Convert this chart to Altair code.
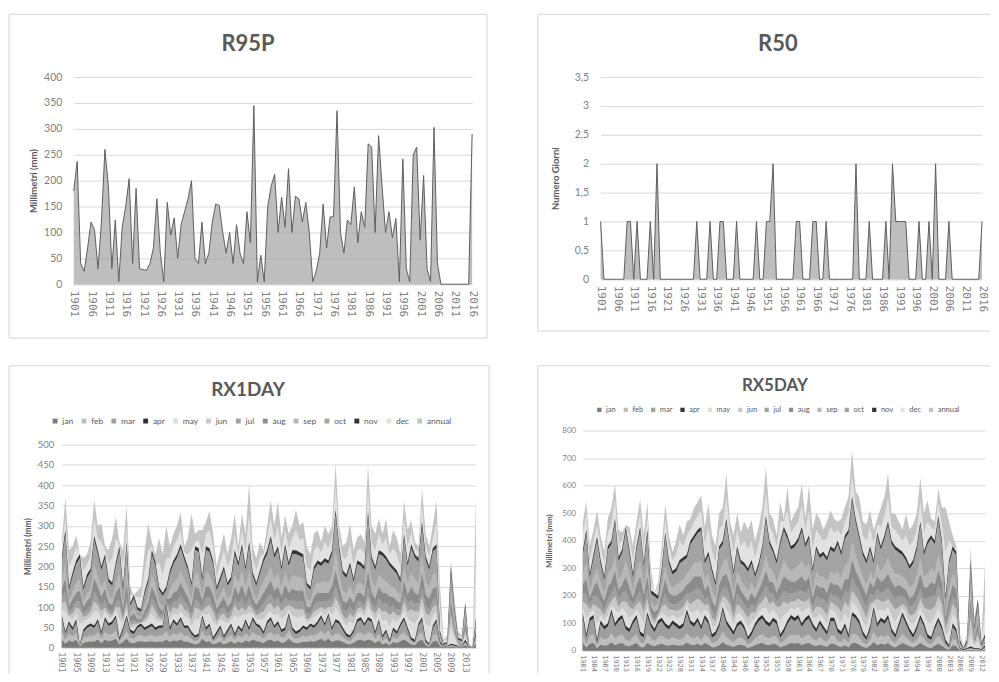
import altair as alt
import pandas as pd

FONT = "Lato"
MONO = "DejaVu Sans Mono"
TXT = "#595959"
LBL = "#7f7f7f"
GRID = "#d9d9d9"
FRAME = "#d4d4d4"

YEARS = list(range(1901, 2017))

# ---------------- R95P (mm) ----------------
R95P = [
    180, 237, 40, 25, 70, 120, 105, 30, 120, 260,
    190, 30, 124, 5, 110, 150, 204, 40, 185, 30,
    28, 27, 40, 70, 165, 60, 5, 158, 95, 128,
    50, 115, 140, 165, 200, 50, 40, 120, 40, 60,
    120, 155, 152, 100, 60, 100, 40, 115, 60, 40,
    140, 80, 345, 5, 56, 5, 150, 190, 212, 100,
    168, 110, 223, 100, 170, 165, 120, 158, 100, 5,
    25, 60, 155, 70, 130, 130, 335, 100, 60, 124,
    115, 188, 80, 140, 110, 271, 265, 100, 287, 190,
    100, 140, 90, 127, 5, 242, 30, 5, 250, 265,
    85, 210, 30, 5, 303, 40, 0, 0, 0, 0,
    0, 0, 0, 0, 0, 290,
]

# ---------------- R50 (giorni) ----------------
R50 = [
    1, 0, 0, 0, 0, 0, 0, 0, 1, 1,
    0, 1, 0, 0, 0, 1, 0, 2, 0, 0,
    0, 0, 0, 0, 0, 0, 0, 0, 0, 1,
    0, 0, 0, 1, 0, 0, 1, 1, 0, 0,
    0, 1, 0, 0, 0, 0, 0, 1, 0, 0,
    1, 1, 2, 0, 0, 0, 0, 0, 0, 1,
    1, 0, 0, 0, 1, 1, 0, 0, 1, 0,
    0, 0, 0, 0, 0, 0, 0, 2, 0, 0,
    0, 1, 0, 0, 0, 0, 1, 0, 2, 1,
    1, 1, 1, 0, 0, 0, 1, 0, 0, 1,
    0, 2, 0, 0, 0, 1, 0, 0, 0, 0,
    0, 0, 0, 0, 0, 1,
]

SERIES = ["jan", "feb", "mar", "apr", "may", "jun", "jul", "aug", "sep", "oct", "nov", "dec", "annual"]
SERIES_COLORS = ["#7a7a7a", "#bdbdbd", "#9e9e9e", "#303030", "#dedede", "#c8c8c8", "#a0a0a0",
                 "#8c8c8c", "#b8b8b8", "#a3a3a3", "#333333", "#e2e2e2", "#c4c4c4"]
DRAW_ORDER = ["annual", "dec", "nov", "oct", "sep", "aug", "jul", "jun", "may", "apr", "mar", "feb", "jan"]

# ---------------- RX1DAY (mm) ----------------
rx1_jan = [
    20, 10, 18, 14, 20, 3, 12, 14, 15, 15,
    20, 11, 20, 16, 18, 22, 8, 14, 22, 12,
    11, 15, 16, 14, 15, 16, 14, 15, 15, 20,
    14, 18, 16, 20, 15, 15, 11, 8, 10, 22,
    14, 16, 8, 11, 15, 8, 12, 16, 10, 15,
    12, 18, 14, 20, 16, 15, 11, 18, 20, 15,
    18, 12, 14, 22, 14, 11, 12, 15, 14, 16,
    15, 18, 22, 16, 22, 14, 18, 18, 14, 10,
    8, 12, 18, 20, 16, 20, 18, 11, 18, 8,
    12, 6, 14, 11, 16, 20, 14, 8, 6, 16,
    20, 6, 3, 15, 18, 4, 2, 2, 3, 3,
    2, 2, 6, 2, 0, 10,
]
rx1_feb = [
    40, 20, 35, 28, 38, 5, 25, 28, 30, 30,
    38, 22, 40, 32, 35, 42, 15, 27, 42, 25,
    22, 30, 32, 28, 30, 32, 27, 30, 30, 40,
    27, 36, 32, 38, 30, 30, 22, 16, 20, 42,
    27, 32, 15, 22, 30, 16, 25, 32, 20, 30,
    25, 36, 27, 38, 32, 30, 22, 35, 38, 30,
    35, 25, 27, 44, 27, 22, 25, 30, 27, 32,
    30, 35, 42, 32, 44, 27, 36, 35, 27, 20,
    16, 25, 36, 38, 32, 38, 36, 22, 36, 16,
    25, 11, 27, 22, 32, 38, 27, 15, 11, 32,
    38, 11, 6, 30, 36, 7, 3, 3, 6, 5,
    3, 3, 11, 3, 0, 20,
]
rx1_mar = [
    74, 35, 59, 44, 64, 5, 39, 49, 54, 49,
    64, 34, 69, 54, 59, 74, 20, 44, 74, 39,
    34, 49, 54, 44, 49, 54, 44, 49, 49, 103,
    44, 64, 54, 69, 49, 49, 34, 25, 29, 74,
    44, 54, 20, 34, 49, 25, 39, 54, 29, 49,
    39, 64, 44, 69, 54, 49, 34, 59, 69, 49,
    59, 39, 44, 79, 44, 34, 39, 49, 44, 54,
    49, 59, 74, 54, 79, 44, 64, 59, 44, 29,
    25, 39, 64, 69, 54, 69, 64, 34, 64, 25,
    39, 15, 44, 34, 54, 69, 44, 20, 15, 54,
    69, 15, 7, 49, 64, 11, 3, 3, 7, 5,
    3, 3, 15, 3, 0, 34,
]
rx1_apr = [
    80, 40, 65, 50, 70, 8, 45, 55, 60, 55,
    70, 40, 75, 60, 65, 80, 25, 50, 80, 45,
    40, 55, 60, 50, 55, 60, 50, 55, 55, 110,
    50, 70, 60, 75, 55, 55, 40, 30, 35, 80,
    50, 60, 25, 40, 55, 30, 45, 60, 35, 55,
    45, 70, 50, 75, 60, 55, 40, 65, 75, 55,
    65, 45, 50, 85, 50, 40, 45, 55, 50, 60,
    55, 65, 80, 60, 85, 50, 70, 65, 50, 35,
    30, 45, 70, 75, 60, 75, 70, 40, 70, 30,
    45, 20, 50, 40, 60, 75, 50, 25, 20, 60,
    75, 20, 10, 55, 70, 15, 5, 5, 10, 8,
    5, 5, 20, 5, 0, 40,
]
rx1_may = [
    95, 90, 75, 70, 85, 60, 65, 70, 75, 90,
    90, 70, 90, 75, 75, 95, 70, 62, 95, 50,
    50, 58, 62, 62, 70, 85, 70, 65, 65, 111,
    70, 85, 80, 90, 78, 75, 55, 70, 70, 85,
    80, 85, 65, 55, 70, 65, 60, 70, 80, 75,
    80, 82, 85, 85, 70, 70, 70, 85, 90, 80,
    85, 70, 80, 95, 80, 75, 75, 80, 62, 68,
    75, 82, 90, 80, 92, 80, 100, 85, 68, 55,
    65, 60, 85, 88, 78, 100, 85, 65, 88, 65,
    70, 55, 72, 62, 72, 95, 72, 65, 60, 75,
    100, 60, 50, 80, 88, 15, 5, 5, 50, 25,
    6, 6, 30, 3, 0, 40,
]
rx1_jun = [
    110, 115, 80, 85, 100, 95, 75, 80, 90, 115,
    105, 90, 100, 85, 80, 100, 100, 70, 110, 55,
    60, 60, 60, 70, 80, 105, 90, 75, 70, 112,
    85, 100, 95, 110, 95, 90, 70, 100, 95, 90,
    100, 105, 90, 65, 80, 85, 70, 80, 105, 90,
    100, 90, 105, 95, 80, 85, 90, 105, 110, 95,
    105, 90, 100, 105, 100, 95, 95, 95, 70, 75,
    90, 95, 100, 95, 100, 100, 125, 105, 80, 70,
    85, 75, 95, 100, 90, 125, 95, 85, 100, 90,
    90, 80, 90, 80, 80, 115, 90, 95, 90, 90,
    125, 85, 80, 100, 105, 16, 5, 6, 80, 35,
    8, 7, 40, 2, 0, 40,
]
rx1_jul = [
    125, 140, 90, 100, 115, 115, 85, 95, 105, 140,
    125, 105, 120, 95, 90, 115, 120, 80, 130, 65,
    70, 65, 65, 80, 95, 125, 110, 85, 80, 115,
    100, 115, 115, 130, 115, 105, 85, 120, 115, 100,
    125, 125, 105, 80, 95, 100, 85, 95, 125, 110,
    125, 105, 125, 105, 90, 100, 110, 125, 135, 115,
    125, 105, 125, 115, 120, 115, 115, 115, 85, 85,
    105, 115, 115, 115, 115, 125, 155, 125, 95, 90,
    105, 90, 115, 115, 105, 155, 110, 100, 125, 110,
    110, 100, 105, 95, 95, 135, 110, 120, 110, 110,
    150, 105, 95, 120, 125, 18, 5, 6, 95, 45,
    10, 8, 50, 2, 0, 40,
]
rx1_aug = [
    145, 170, 100, 120, 135, 140, 100, 115, 125, 170,
    150, 125, 145, 110, 105, 135, 150, 95, 160, 75,
    85, 70, 70, 90, 110, 150, 130, 100, 90, 120,
    120, 135, 140, 160, 140, 125, 100, 150, 145, 115,
    150, 150, 130, 95, 110, 125, 100, 110, 150, 130,
    155, 125, 155, 120, 105, 120, 135, 150, 165, 140,
    150, 125, 155, 135, 145, 140, 140, 140, 100, 100,
    125, 135, 135, 135, 135, 150, 190, 150, 115, 110,
    125, 110, 135, 135, 125, 190, 135, 120, 150, 135,
    135, 125, 125, 115, 110, 165, 130, 150, 135, 130,
    185, 130, 120, 145, 150, 20, 5, 8, 115, 55,
    12, 10, 65, 3, 0, 45,
]
rx1_sep = [
    170, 210, 115, 140, 160, 170, 115, 135, 145, 205,
    180, 150, 170, 130, 120, 160, 185, 110, 195, 85,
    100, 80, 75, 105, 130, 180, 155, 115, 100, 115,
    145, 160, 170, 190, 170, 150, 120, 185, 180, 130,
    185, 180, 160, 115, 130, 150, 120, 130, 180, 160,
    190, 150, 190, 140, 120, 145, 165, 180, 200, 170,
    185, 150, 190, 160, 180, 175, 175, 170, 120, 115,
    150, 160, 160, 165, 160, 180, 240, 185, 140, 135,
    155, 130, 160, 160, 150, 240, 165, 150, 180, 170,
    165, 155, 150, 140, 130, 200, 160, 185, 170, 160,
    230, 165, 150, 180, 185, 25, 6, 10, 140, 70,
    15, 12, 80, 3, 0, 50,
]
rx1_oct = [
    217, 281, 143, 177, 207, 221, 143, 172, 187, 266,
    232, 192, 222, 162, 153, 202, 241, 143, 251, 104,
    123, 94, 89, 133, 162, 231, 202, 143, 128, 143,
    182, 207, 222, 246, 217, 192, 153, 241, 236, 167,
    241, 236, 207, 143, 167, 192, 153, 167, 231, 202,
    246, 192, 251, 177, 153, 182, 212, 231, 266, 222,
    241, 192, 246, 202, 231, 231, 227, 222, 153, 143,
    192, 207, 202, 212, 207, 231, 330, 241, 182, 172,
    202, 162, 207, 202, 192, 325, 217, 192, 231, 227,
    217, 202, 192, 182, 162, 271, 202, 246, 222, 212,
    300, 217, 192, 237, 246, 35, 7, 11, 192, 94,
    21, 16, 104, 3, 0, 68,
]
rx1_nov = [
    225, 290, 150, 185, 215, 230, 150, 180, 195, 275,
    240, 200, 230, 170, 160, 210, 250, 150, 260, 110,
    130, 100, 95, 140, 170, 240, 210, 150, 135, 150,
    190, 215, 230, 255, 225, 200, 160, 250, 245, 175,
    250, 245, 215, 150, 175, 200, 160, 175, 240, 210,
    255, 200, 260, 185, 160, 190, 220, 240, 275, 230,
    250, 200, 255, 210, 240, 240, 235, 230, 160, 150,
    200, 215, 210, 220, 215, 240, 340, 250, 190, 180,
    210, 170, 215, 210, 200, 335, 225, 200, 240, 235,
    225, 210, 200, 190, 170, 280, 210, 255, 230, 220,
    310, 225, 200, 245, 255, 40, 10, 15, 200, 100,
    25, 20, 110, 5, 0, 75,
]
rx1_dec = [
    245, 320, 200, 220, 250, 230, 190, 205, 225, 320,
    270, 260, 240, 210, 220, 270, 255, 200, 300, 130,
    130, 125, 125, 190, 240, 250, 205, 210, 180, 220,
    220, 250, 265, 290, 235, 230, 240, 260, 265, 230,
    280, 290, 250, 175, 210, 240, 200, 220, 280, 230,
    290, 240, 330, 220, 190, 225, 230, 270, 320, 265,
    300, 235, 290, 245, 270, 290, 265, 270, 200, 190,
    240, 250, 235, 260, 245, 270, 400, 275, 220, 220,
    255, 205, 240, 245, 230, 390, 260, 240, 280, 255,
    270, 230, 245, 230, 200, 320, 250, 285, 245, 235,
    350, 250, 225, 270, 310, 100, 15, 20, 210, 110,
    30, 25, 112, 8, 3, 220,
]
rx1_annual = [
    260, 370, 240, 250, 277, 230, 220, 230, 260, 365,
    300, 305, 250, 240, 270, 323, 260, 240, 350, 150,
    130, 140, 150, 240, 305, 260, 230, 270, 230, 300,
    250, 280, 300, 335, 250, 270, 330, 280, 290, 290,
    310, 337, 280, 200, 240, 283, 230, 270, 330, 250,
    330, 280, 404, 250, 220, 260, 240, 300, 363, 300,
    360, 270, 326, 280, 300, 340, 300, 310, 250, 230,
    280, 290, 260, 300, 280, 300, 453, 300, 250, 260,
    305, 240, 270, 280, 260, 450, 300, 280, 318, 280,
    318, 250, 290, 270, 230, 363, 290, 314, 260, 250,
    392, 280, 250, 300, 363, 150, 20, 30, 215, 120,
    40, 30, 113, 10, 5, 380,
]

# ---------------- RX5DAY (mm) ----------------
rx5_jan = [
    30, 12, 25, 28, 8, 22, 18, 20, 30, 20,
    25, 28, 18, 16, 22, 28, 14, 12, 28, 20,
    16, 22, 25, 20, 18, 22, 20, 18, 20, 30,
    22, 20, 25, 18, 28, 22, 12, 14, 20, 32,
    22, 18, 14, 20, 22, 18, 10, 14, 20, 25,
    28, 22, 20, 25, 22, 12, 16, 22, 28, 25,
    28, 20, 25, 28, 20, 16, 22, 18, 14, 25,
    25, 16, 14, 20, 12, 28, 28, 22, 14, 10,
    18, 32, 20, 25, 22, 28, 16, 12, 20, 28,
    22, 16, 12, 18, 28, 20, 12, 10, 18, 25,
    18, 8, 4, 20, 16, 2, 1, 2, 3, 2,
    2, 1, 4, 1, 1, 8,
]
rx5_feb = [
    65, 25, 55, 60, 18, 50, 40, 45, 65, 45,
    55, 60, 40, 35, 50, 60, 32, 28, 62, 45,
    35, 50, 55, 45, 40, 50, 45, 40, 45, 65,
    50, 45, 55, 40, 60, 50, 28, 32, 45, 70,
    50, 40, 32, 45, 50, 40, 22, 32, 45, 55,
    60, 50, 45, 55, 50, 28, 36, 50, 60, 55,
    60, 45, 55, 60, 45, 36, 50, 40, 32, 55,
    55, 36, 32, 45, 28, 62, 60, 50, 32, 22,
    40, 70, 45, 55, 50, 60, 36, 28, 45, 62,
    50, 36, 28, 40, 60, 45, 28, 22, 40, 55,
    40, 18, 9, 45, 36, 5, 2, 5, 7, 5,
    5, 2, 9, 2, 1, 18,
]
rx5_mar = [
    128, 48, 108, 118, 30, 98, 78, 88, 138, 88,
    108, 118, 78, 68, 98, 118, 58, 48, 128, 88,
    68, 98, 108, 88, 78, 98, 88, 78, 88, 138,
    98, 88, 108, 78, 118, 98, 48, 58, 88, 148,
    98, 78, 58, 88, 98, 78, 40, 58, 88, 108,
    118, 98, 88, 108, 98, 48, 68, 98, 118, 108,
    118, 88, 108, 118, 88, 68, 98, 78, 58, 108,
    108, 68, 58, 88, 48, 128, 118, 98, 58, 40,
    78, 148, 88, 108, 98, 118, 68, 48, 88, 128,
    98, 68, 48, 78, 118, 88, 48, 40, 78, 108,
    78, 30, 14, 88, 68, 7, 3, 7, 10, 7,
    7, 3, 14, 3, 2, 30,
]
rx5_apr = [
    140, 60, 120, 130, 40, 110, 90, 100, 150, 100,
    120, 130, 90, 80, 110, 130, 70, 60, 140, 100,
    80, 110, 120, 100, 90, 110, 100, 90, 100, 150,
    110, 100, 120, 90, 130, 110, 60, 70, 100, 160,
    110, 90, 70, 100, 110, 90, 50, 70, 100, 120,
    130, 110, 100, 120, 110, 60, 80, 110, 130, 120,
    130, 100, 120, 130, 100, 80, 110, 90, 70, 120,
    120, 80, 70, 100, 60, 140, 130, 110, 70, 50,
    90, 160, 100, 120, 110, 130, 80, 60, 100, 140,
    110, 80, 60, 90, 130, 100, 60, 50, 90, 120,
    90, 40, 20, 100, 80, 10, 5, 10, 15, 10,
    10, 5, 20, 5, 3, 40,
]
rx5_may = [
    160, 120, 135, 150, 100, 130, 110, 130, 165, 150,
    140, 155, 140, 120, 130, 150, 130, 100, 160, 112,
    92, 120, 140, 130, 120, 130, 120, 120, 130, 168,
    140, 140, 150, 135, 150, 140, 90, 90, 130, 180,
    150, 130, 95, 135, 135, 115, 85, 105, 120, 140,
    155, 155, 135, 150, 135, 110, 130, 140, 155, 150,
    160, 140, 150, 160, 120, 120, 135, 120, 100, 150,
    145, 120, 105, 140, 110, 180, 165, 145, 110, 85,
    130, 170, 145, 150, 145, 160, 125, 105, 130, 155,
    135, 105, 95, 120, 160, 130, 105, 100, 125, 160,
    130, 60, 70, 135, 115, 12, 5, 12, 60, 20,
    35, 6, 22, 6, 3, 80,
]
rx5_jun = [
    180, 170, 150, 170, 160, 150, 130, 160, 180, 200,
    160, 180, 180, 160, 150, 170, 180, 140, 190, 125,
    105, 130, 160, 170, 150, 150, 145, 150, 160, 185,
    170, 180, 190, 180, 165, 170, 120, 110, 165, 200,
    190, 170, 120, 170, 160, 140, 120, 140, 140, 165,
    180, 200, 170, 180, 160, 160, 180, 170, 180, 180,
    190, 180, 180, 190, 140, 160, 160, 150, 130, 180,
    170, 160, 140, 180, 160, 220, 200, 180, 150, 120,
    170, 180, 190, 180, 180, 190, 170, 150, 160, 170,
    160, 130, 130, 150, 190, 160, 150, 150, 160, 200,
    170, 80, 120, 170, 150, 15, 5, 15, 120, 28,
    60, 8, 25, 6, 3, 120,
]
rx5_jul = [
    210, 210, 170, 200, 200, 180, 150, 190, 210, 240,
    190, 210, 220, 190, 170, 200, 220, 170, 230, 140,
    120, 140, 180, 210, 180, 170, 170, 180, 190, 210,
    210, 220, 230, 220, 190, 200, 150, 130, 200, 230,
    230, 200, 150, 210, 190, 170, 150, 170, 160, 190,
    210, 240, 210, 210, 180, 200, 220, 210, 210, 210,
    220, 220, 210, 230, 160, 200, 190, 190, 170, 210,
    200, 200, 180, 220, 210, 270, 240, 220, 190, 160,
    210, 200, 230, 210, 220, 230, 210, 190, 200, 200,
    190, 160, 170, 190, 230, 190, 190, 200, 200, 240,
    210, 100, 160, 200, 180, 18, 5, 18, 160, 35,
    80, 10, 30, 7, 3, 150,
]
rx5_aug = [
    240, 260, 190, 230, 250, 210, 180, 230, 250, 290,
    220, 240, 270, 230, 190, 240, 270, 200, 270, 160,
    140, 150, 210, 260, 210, 200, 200, 210, 220, 240,
    250, 270, 270, 270, 220, 240, 180, 160, 240, 270,
    280, 240, 180, 250, 220, 200, 180, 210, 190, 220,
    250, 290, 250, 250, 210, 240, 270, 260, 250, 250,
    260, 270, 250, 270, 190, 240, 230, 230, 210, 250,
    240, 240, 220, 260, 260, 330, 290, 260, 230, 200,
    250, 230, 270, 250, 260, 280, 250, 230, 240, 230,
    220, 190, 200, 230, 280, 230, 230, 250, 240, 290,
    250, 120, 190, 240, 220, 20, 5, 20, 190, 45,
    100, 12, 35, 8, 3, 180,
]
rx5_sep = [
    280, 320, 220, 270, 300, 250, 210, 280, 300, 350,
    260, 280, 330, 280, 220, 290, 330, 240, 320, 180,
    160, 170, 240, 310, 250, 230, 240, 250, 260, 280,
    300, 320, 320, 330, 260, 280, 220, 190, 280, 320,
    340, 290, 210, 290, 260, 240, 220, 250, 220, 260,
    290, 350, 300, 290, 250, 290, 330, 310, 290, 300,
    310, 330, 300, 320, 220, 290, 270, 270, 250, 290,
    280, 290, 270, 310, 320, 400, 350, 310, 270, 240,
    290, 260, 320, 290, 310, 340, 300, 280, 280, 270,
    260, 230, 240, 280, 340, 270, 280, 300, 290, 350,
    300, 140, 230, 280, 260, 25, 6, 25, 230, 55,
    120, 15, 40, 10, 3, 210,
]
rx5_oct = [
    348, 428, 268, 338, 402, 318, 258, 368, 388, 468,
    328, 358, 438, 358, 268, 368, 438, 308, 428, 208,
    198, 188, 288, 418, 318, 278, 288, 318, 328, 338,
    388, 408, 428, 438, 318, 348, 288, 238, 368, 388,
    468, 368, 278, 368, 318, 308, 288, 318, 268, 308,
    368, 478, 388, 358, 318, 388, 438, 408, 368, 378,
    398, 438, 378, 408, 288, 368, 338, 348, 328, 368,
    358, 388, 348, 408, 428, 548, 468, 408, 348, 318,
    368, 318, 418, 368, 408, 458, 388, 368, 358, 348,
    328, 298, 318, 368, 458, 348, 388, 408, 388, 478,
    388, 188, 318, 368, 348, 32, 6, 32, 318, 80,
    173, 20, 50, 10, 3, 288,
]
rx5_nov = [
    360, 440, 280, 350, 414, 330, 270, 380, 400, 480,
    340, 370, 450, 370, 280, 380, 450, 320, 440, 220,
    210, 200, 300, 430, 330, 290, 300, 330, 340, 350,
    400, 420, 440, 450, 330, 360, 300, 250, 380, 400,
    480, 380, 290, 380, 330, 320, 300, 330, 280, 320,
    380, 490, 400, 370, 330, 400, 450, 420, 380, 390,
    410, 450, 390, 420, 300, 380, 350, 360, 340, 380,
    370, 400, 360, 420, 440, 560, 480, 420, 360, 330,
    380, 330, 430, 380, 420, 470, 400, 380, 370, 360,
    340, 310, 330, 380, 470, 360, 400, 420, 400, 490,
    400, 200, 330, 380, 360, 40, 10, 40, 330, 90,
    185, 25, 60, 15, 5, 300,
]
rx5_dec = [
    420, 500, 330, 400, 460, 380, 320, 430, 460, 550,
    390, 400, 453, 420, 330, 430, 500, 370, 490, 260,
    210, 230, 340, 480, 380, 330, 350, 400, 380, 420,
    440, 470, 490, 510, 390, 450, 360, 320, 440, 460,
    560, 430, 360, 440, 380, 400, 370, 400, 340, 390,
    450, 580, 450, 430, 380, 470, 470, 510, 430, 450,
    470, 530, 440, 510, 370, 440, 420, 400, 410, 450,
    430, 440, 420, 470, 500, 640, 530, 490, 420, 400,
    450, 390, 460, 450, 490, 560, 450, 440, 420, 400,
    420, 380, 400, 440, 550, 430, 470, 450, 440, 540,
    460, 360, 400, 380, 370, 50, 15, 50, 350, 100,
    188, 30, 150, 18, 8, 350,
]
rx5_annual = [
    460, 545, 380, 440, 510, 420, 360, 480, 520, 607,
    440, 430, 456, 450, 380, 470, 552, 420, 540, 300,
    210, 250, 380, 534, 420, 360, 400, 460, 420, 470,
    480, 520, 540, 565, 450, 535, 420, 380, 500, 520,
    643, 470, 420, 500, 430, 470, 440, 475, 400, 450,
    520, 667, 500, 480, 420, 540, 480, 595, 470, 500,
    520, 607, 480, 600, 440, 500, 480, 440, 470, 510,
    480, 470, 480, 522, 560, 727, 580, 558, 470, 460,
    510, 440, 480, 520, 560, 643, 500, 498, 470, 440,
    498, 440, 460, 500, 630, 500, 546, 480, 470, 588,
    520, 522, 470, 420, 380, 60, 20, 60, 378, 120,
    190, 40, 317, 20, 10, 400,
]

RX1 = {"jan": rx1_jan, "feb": rx1_feb, "mar": rx1_mar, "apr": rx1_apr, "may": rx1_may,
       "jun": rx1_jun, "jul": rx1_jul, "aug": rx1_aug, "sep": rx1_sep, "oct": rx1_oct,
       "nov": rx1_nov, "dec": rx1_dec, "annual": rx1_annual}
RX5 = {"jan": rx5_jan, "feb": rx5_feb, "mar": rx5_mar, "apr": rx5_apr, "may": rx5_may,
       "jun": rx5_jun, "jul": rx5_jul, "aug": rx5_aug, "sep": rx5_sep, "oct": rx5_oct,
       "nov": rx5_nov, "dec": rx5_dec, "annual": rx5_annual}


def long_frame(d):
    rows = []
    for s in SERIES:
        vals = d[s]
        assert len(vals) == len(YEARS), s
        for yr, v in zip(YEARS, vals):
            rows.append({"year": yr, "series": s, "value": v})
    return pd.DataFrame(rows)


ONE = alt.Data(values=[{"k": 1}])


def hrule(x1, x2, y):
    return alt.Chart(ONE).mark_rule(color=FRAME, strokeWidth=1).encode(
        x=alt.value(x1), x2=alt.value(x2), y=alt.value(y))


def vrule(x, y1, y2):
    return alt.Chart(ONE).mark_rule(color=FRAME, strokeWidth=1).encode(
        x=alt.value(x), y=alt.value(y1), y2=alt.value(y2))


def heading(text, x, y, size):
    return alt.Chart(ONE).mark_text(
        text=text, font=FONT, fontSize=size, fontWeight="bold", color=TXT,
        align="center", baseline="middle"
    ).encode(x=alt.value(x), y=alt.value(y))


def x_enc(values, size, pad, end=2016, rng=None):
    sc = dict(domain=[1901, end], nice=False, zero=False)
    if rng is not None:
        sc["range"] = rng
    return alt.X(
        "year:Q",
        scale=alt.Scale(**sc),
        axis=alt.Axis(values=values, format="d", labelAngle=90, labelFont=MONO,
                      labelFontSize=size, labelColor=LBL, labelPadding=pad, ticks=False,
                      domainColor=GRID, grid=False, title=None, labelFlush=False,
                      labelOverlap=False),
    )


def y_enc(domain, values, title, size, pad, tsize, tpad, expr=None):
    kw = dict(values=values, grid=True, gridColor=GRID, domain=False, ticks=False,
              labelColor=LBL, labelFont=FONT, labelFontSize=size, labelPadding=pad,
              title=title, titleFont=FONT, titleFontSize=tsize, titleFontWeight="bold",
              titleColor=TXT, titlePadding=tpad)
    if expr:
        kw["labelExpr"] = expr
    return alt.Y("value:Q", scale=alt.Scale(domain=domain, nice=False, zero=True),
                 stack=None, axis=alt.Axis(**kw))


# ---------- Panel 1: R95P ----------
W1, H1 = 412, 208
df95 = pd.DataFrame({"year": YEARS, "value": R95P})
area95 = alt.Chart(df95).mark_area(
    color="#a3a3a3", interpolate="linear", line={"color": "#5e5e5e", "strokeWidth": 1}
).encode(
    x=x_enc(list(range(1901, 2017, 5)), 11, 6, rng=[12, W1]),
    y=y_enc([0, 400], list(range(0, 401, 50)), "Millimetri (mm)", 10.5, 0, 9.5, 5),
)
p1 = alt.layer(
    hrule(-53, W1 + 15, -63), hrule(-53, W1 + 15, H1 + 54),
    vrule(-53, -63, H1 + 54), vrule(W1 + 15, -63, H1 + 54),
    area95, heading("R95P", 187, -33, 22),
).properties(width=W1, height=H1)

# ---------- Panel 2: R50 ----------
W2, H2 = 383, 203
df50 = pd.DataFrame({"year": YEARS, "value": R50})
area50 = alt.Chart(df50).mark_area(
    color="#a3a3a3", interpolate="linear", line={"color": "#5e5e5e", "strokeWidth": 1}
).encode(
    x=x_enc(list(range(1901, 2017, 5)), 11, 6),
    y=y_enc([0, 3.5], [0, 0.5, 1, 1.5, 2, 2.5, 3, 3.5], "Numero Giorni", 10.5, 12, 9.5, 14,
            expr="replace(format(datum.value, '~g'), '.', ',')"),
)
p2 = alt.layer(
    hrule(-63, W2 + 8, -63), hrule(-63, W2 + 8, H2 + 52), vrule(-63, -63, H2 + 52),
    area50, heading("R50", 178, -33, 22),
).properties(width=W2, height=H2)


# ---------- monthly panels ----------
def monthly(df, xvals, xsize, xend, ydomain, yvals, ysize, ypad, tsize, tpad, legend):
    layers = []
    for s in DRAW_ORDER:
        layers.append(
            alt.Chart(df).transform_filter(alt.datum.series == s).mark_area(
                interpolate="linear", clip=True
            ).encode(
                x=x_enc(xvals, xsize, 4, xend),
                y=y_enc(ydomain, yvals, "Millimetri (mm)", ysize, ypad, tsize, tpad),
                color=alt.Color("series:N", scale=alt.Scale(domain=SERIES, range=SERIES_COLORS),
                                legend=legend),
            )
        )
    return layers


W3, H3 = 416, 204
leg3 = alt.Legend(orient="none", legendX=-11, legendY=-28, direction="horizontal", title=None,
                  symbolType="square", symbolSize=24, symbolStrokeWidth=0, labelFont=FONT,
                  labelFontSize=8.5, labelColor=TXT, columnPadding=6, labelOffset=3, labelLimit=80)
layers3 = monthly(long_frame(RX1), list(range(1901, 2017, 4)), 8.5, 2016, [0, 500],
                  list(range(0, 501, 50)), 9.5, 8, 8.5, 5, leg3)
p3 = alt.layer(
    hrule(-53, W3 + 13, -79), vrule(-53, -79, H3 + 26), vrule(W3 + 13, -79, H3 + 26),
    *layers3, heading("RX1DAY", 187, -55, 19),
).properties(width=W3, height=H3)

W4, H4 = 404, 221
leg4 = alt.Legend(orient="none", legendX=13, legendY=-25, direction="horizontal", title=None,
                  symbolType="square", symbolSize=18, symbolStrokeWidth=0, labelFont=FONT,
                  labelFontSize=7.5, labelColor=TXT, columnPadding=5.5, labelOffset=3, labelLimit=80)
layers4 = monthly(long_frame(RX5), list(range(1901, 2013, 3)), 7, 2013, [0, 800],
                  list(range(0, 801, 100)), 8, 7, 8, 8, leg4)
p4 = alt.layer(
    hrule(-45, W4 + 5, -65), vrule(-45, -65, H4 + 23),
    *layers4, heading("RX5DAY", 193, -45, 17),
).properties(width=W4, height=H4)

chart = alt.ConcatChart(
    concat=[p1, p2, p3, p4], columns=2, align="none",
    spacing=alt.RowColnumber(row=26, column=47),
).properties(
    padding={"left": 0, "top": 4, "right": 0, "bottom": 0}, background="white"
).resolve_scale(color="independent").resolve_legend(color="independent").configure_view(stroke=None)

chart.save("out.html", embed_options={"renderer": "svg", "actions": False})
